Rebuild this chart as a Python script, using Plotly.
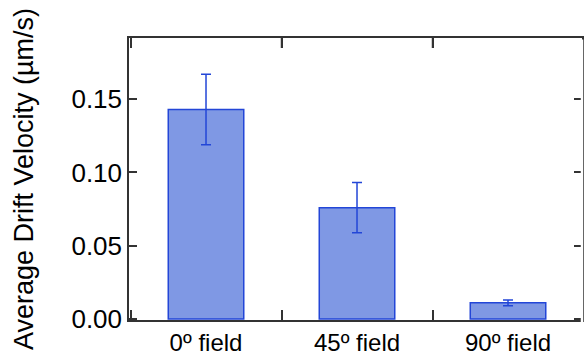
import plotly.graph_objects as go

categories = ["0º field", "45º field", "90º field"]
values = [0.143, 0.076, 0.011]
errors = [0.024, 0.0172, 0.002]
yticks = [0.00, 0.05, 0.10, 0.15]
ytick_labels = ["0.00", "0.05", "0.10", "0.15"]

FILL = "rgb(127,152,228)"
EDGE = "rgb(35,70,215)"
AXIS = "#333333"
FONT = "Liberation Sans, Arial, sans-serif"

# category boundaries (between neighbouring categories) for the top-frame ticks
boundaries = [i + 0.5 for i in range(len(categories) - 1)]

fig = go.Figure()
fig.add_trace(go.Bar(
    x=categories, y=values, width=0.5,
    marker=dict(color=FILL, line=dict(color=EDGE, width=1.5)),
    error_y=dict(type="data", array=errors, visible=True, color=EDGE, thickness=1.5, width=5),
))

shapes = [
    # the reference frame is cropped at the right edge: mask the right border line
    dict(type="line", xref="paper", yref="paper", x0=1, x1=1, y0=-0.01, y1=0.995,
         line=dict(color="white", width=2.5), layer="above"),
]
for b in boundaries:
    shapes.append(dict(type="line", xref="x", yref="paper", ysizemode="pixel", yanchor=1,
                       x0=b, x1=b, y0=0, y1=-10,
                       line=dict(color=AXIS, width=1.5), layer="above"))

fig.update_layout(
    width=584, height=356,
    margin=dict(l=129, r=0, t=38, b=35),
    paper_bgcolor="white", plot_bgcolor="white",
    showlegend=False,
    font=dict(family=FONT, size=24, color="black"),
    xaxis=dict(
        range=[-0.51, 2.49], showline=True, linecolor=AXIS, linewidth=1.5,
        mirror="allticks", ticks="inside", ticklen=10, tickwidth=1.5, tickcolor=AXIS,
        tickson="boundaries", showgrid=False, zeroline=False,
        tickfont=dict(size=24),
    ),
    yaxis=dict(
        range=[-0.0007, 0.1918], showline=True, linecolor=AXIS, linewidth=1.5,
        mirror="allticks", ticks="inside", ticklen=8, tickwidth=1.5, tickcolor=AXIS,
        tickvals=yticks, ticktext=ytick_labels, showgrid=False, zeroline=False,
        tickfont=dict(size=26),
        title=dict(text="Average Drift Velocity (µm/s)", font=dict(size=27), standoff=30),
    ),
    shapes=shapes,
)

fig.write_html("out.html")
